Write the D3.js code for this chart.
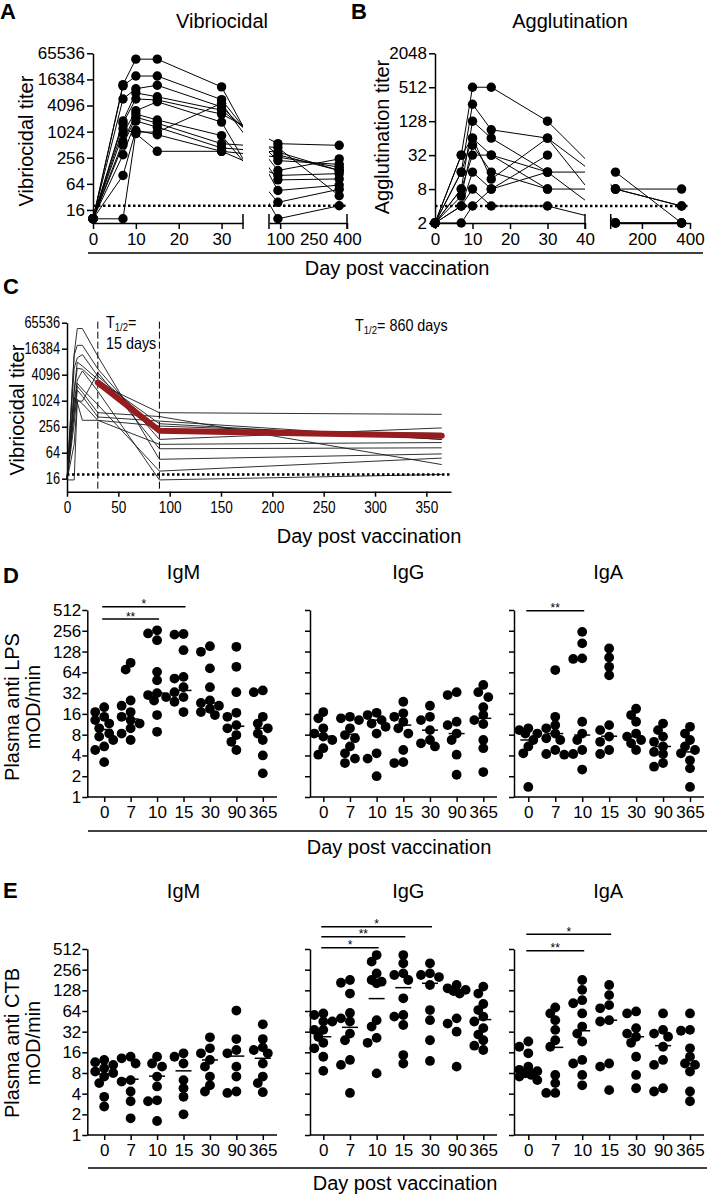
<!DOCTYPE html>
<html><head><meta charset="utf-8">
<script src="https://cdn.jsdelivr.net/npm/d3@7"></script>
<style>body{margin:0;background:#fff}</style>
</head><body>
<svg id="chart" width="712" height="1198"></svg>
<script>
// ---------------- DATA ----------------
const vibDays = [0, 7, 10, 15, 30, 90, 365];
const vibTicks = [16, 64, 256, 1024, 4096, 16384, 65536];
const vibThreshold = 20;
// one row per volunteer: titer at day 0,7,10,15,30,90,365
const vibSubjects = [
  [10, 12400, 48000, 48000, 11000, 45, 60],
  [10, 11600, 19600, 19600, 5600, 130, 240],
  [10, 5800, 10000, 12000, 3800, 220, 180],
  [10, 1800, 8000, 6500, 3200, 300, 130],
  [10, 1600, 5800, 5500, 2600, 540, 495],
  [10, 920, 3100, 5000, 1700, 10, 20],
  [10, 600, 2600, 1900, 830, 24, 48],
  [10, 500, 2200, 1600, 540, 440, 34],
  [10, 300, 1800, 1300, 430, 345, 130],
  [10, 100, 1100, 870, 360, 265, 155],
  [10, 1200, 920, 360, 360, 100, 110],
  [10, 10, 1000, 1000, 4600, 79, 83]
];
const aggDays = [0, 7, 10, 15, 30, 90, 365];
const aggTicks = [2, 8, 32, 128, 512, 2048];
const aggThreshold = 4;
const aggSubjects = [
  [2, 32, 512, 512, 128, 8, 4],
  [2, 16, 256, 90, 64, 8, 8],
  [2, 8, 128, 64, 16, 16, 2],
  [2, 16, 64, 12, 64, 2, 2],
  [2, 6, 48, 16, 8, 8, 4],
  [2, 8, 32, 32, 16, 2, 2],
  [2, 4, 8, 4, 4, 2, 2],
  [2, 4, 16, 8, 32, null, null],
  [2, 2, 4, 8, 16, null, null],
  [2, 32, 64, 32, 8, null, null]
];
const halfLifeDays = [30, 90, 365];
const halfLifeTiter = [2680, 207, 158];
const cXTicks = [0, 50, 100, 150, 200, 250, 300, 350];

const elisaDays = ["0", "7", "10", "15", "30", "90", "365"];
const elisaTicks = [1, 2, 4, 8, 16, 32, 64, 128, 256, 512];

const lpsIgM = [
  [20, 17, 14.5, 13, 11.6, 9.9, 8.3, 7.5, 6.7, 5.4, 4.8, 3.2],
  [88, 70, 25, 21, 17, 14.5, 13, 11.6, 9.9, 8.3, 6.7],
  [260, 234, 187, 65, 49, 32, 30, 28, 25, 15.4, 8.8],
  [230, 225, 134, 55, 52, 39, 33, 28, 24, 17],
  [153, 127, 73, 39, 25, 23, 21, 19, 17, 15.4],
  [150, 77, 33, 16.6, 14.5, 11, 9.9, 7.9, 6.3, 4.8],
  [35, 33, 14.5, 11.6, 9.9, 8.3, 6.7, 4, 2.2]
];
const lpsIgMMean = [9.5, 13.5, 32, 35, 23, 10.6, 9.9];
const lpsIgG = [
  [17, 13.8, 9.9, 8.3, 7.5, 6.7, 5.1, 4.1],
  [14.5, 13.8, 13, 9.9, 7.9, 7.1, 5.4, 4.3, 3.6, 3.1],
  [16.6, 15.4, 13, 11.6, 10.4, 8.3, 4.3, 3.6, 2],
  [24, 16.3, 14.5, 12.3, 9.9, 8.3, 4.8, 3.2, 3.1],
  [21, 14.5, 13, 9.3, 6.7, 6, 5.4],
  [33, 30, 12.3, 11, 8.3, 6.7, 4.1, 2.1],
  [42, 33, 28, 20, 15.4, 13, 11.4, 6.7, 5.1, 2.3]
];
const lpsIgGMean = [7.6, 8.1, 13, 11, 9.3, 8.3, 13.8];
const lpsIgA = [
  [9.9, 9.3, 8.3, 8.3, 6.7, 5.4, 4.3, 1.4],
  [69, 14.5, 11, 9.9, 8.3, 7.1, 6.7, 4.8, 4.2, 4.1],
  [247, 168, 102, 100, 12.3, 8.3, 6.7, 4.8, 4.2, 2.5],
  [142, 105, 77, 58, 11, 9.3, 7.5, 6.3, 4.8, 4.2],
  [19, 15.4, 12.3, 8.3, 7.5, 6.7, 6, 4.8],
  [11.6, 9.3, 7.5, 6.3, 5.4, 4.5, 4.2, 3.1, 2.75],
  [10.4, 8.3, 6.7, 5.4, 4.8, 4.3, 3.4, 2.6, 1.4]
];
const lpsIgAMean = [6.7, 8.3, 7.9, 7.6, 7.5, 5.4, 4.5];

const ctbIgM = [
  [12.4, 11.5, 10.5, 9.4, 8.4, 8, 7.1, 5.7, 3.6, 2.6],
  [13.8, 13.1, 11, 6.3, 6, 4.3, 3.1, 1.75],
  [13.8, 11, 9.9, 7.1, 5.1, 3.2, 3.1, 1.6],
  [15.5, 13.8, 11, 6.3, 4.8, 3.6, 2],
  [26.5, 18.3, 15.5, 12.4, 9.9, 7.1, 5.3, 4.3],
  [65, 25, 17.3, 15.5, 9.9, 7.1, 4.3, 4.1],
  [41, 25, 18.9, 17.3, 15.5, 11, 7.1, 5.7, 4.2]
];
const ctbIgMMean = [7.7, 6.5, 7.2, 8.6, 12.4, 14.1, 13.1];
const ctbIgG = [
  [59, 56, 45, 45, 34, 34, 27, 22, 18.3, 13.8, 8.6],
  [181, 165, 115, 60, 50, 45, 30, 24, 12.4, 10.5, 4.1],
  [418, 335, 226, 181, 171, 162, 47, 38, 26, 22, 7.9],
  [418, 317, 226, 214, 181, 98, 56, 53, 40, 14.6, 11],
  [317, 226, 214, 200, 153, 66, 47, 24, 12],
  [153, 137, 130, 125, 115, 50, 42, 32, 9.9],
  [145, 115, 81, 66, 53, 45, 36, 29, 24, 20, 17.3]
];
const ctbIgGMean = [27, 37, 97, 140, 162, 118, 48];
const ctbIgA = [
  [23, 19.3, 15.5, 9.9, 8.9, 8.5, 7.9, 7.5, 7.1, 6.3],
  [72, 59, 47, 34, 24, 19.3, 7.5, 5.7, 4.1, 4.1],
  [181, 130, 92, 83, 59, 38, 30, 23, 12.4, 11, 7.5, 5.3],
  [153, 109, 78, 70, 47, 45, 11, 9.9, 4.5],
  [63, 59, 36, 30, 27, 22, 13.8, 7.5, 4.8],
  [59, 34, 30, 27, 19.3, 12.4, 10.5, 4.8, 4.3],
  [59, 34, 33, 18.3, 13.8, 11, 10.5, 8.4, 4.3, 3.1]
];
const ctbIgAMean = [8.9, 18.9, 33, 47, 27, 20, 11];

// significance: [from day, to day, label]
const sigLpsIgM = [["0", "15", "*"], ["0", "10", "**"]];
const sigLpsIgA = [["0", "10", "**"]];
const sigCtbIgG = [["0", "30", "*"], ["0", "15", "**"], ["0", "10", "*"]];
const sigCtbIgA = [["0", "15", "*"], ["0", "10", "**"]];

// ---------------- HELPERS ----------------
const F = "'Liberation Sans', Arial, Helvetica, sans-serif";
const svg = d3.select("#chart");
const TICK = 17, TITLE = 20;

function addText(x, y, str, size, anchor = "middle", weight = "normal") {
  return svg.append("text").attr("x", x).attr("y", y)
    .attr("font-family", F).attr("font-size", size)
    .attr("text-anchor", anchor).attr("font-weight", weight)
    .attr("fill", "#000").text(str);
}
function addVText(cx, cy, str, size) {
  return svg.append("text").attr("transform", `translate(${cx},${cy}) rotate(-90)`)
    .attr("dy", "0.35em").attr("font-family", F).attr("font-size", size)
    .attr("text-anchor", "middle").attr("fill", "#000").text(str);
}
function styleAxis(g, fs) {
  g.attr("font-family", F).attr("font-size", fs);
  g.select(".domain").attr("stroke", "#000").attr("stroke-width", 1.5);
  g.selectAll(".tick line").attr("stroke", "#000").attr("stroke-width", 1.5);
  g.selectAll(".tick text").attr("fill", "#000");
}
function squeeze(sel, f) {
  sel.each(function () {
    const w = this.getComputedTextLength();
    d3.select(this).attr("textLength", w * f).attr("lengthAdjust", "spacingAndGlyphs");
  });
}
function line(x1, y1, x2, y2, w = 1.5, dash = null) {
  const l = svg.append("line").attr("x1", x1).attr("y1", y1).attr("x2", x2).attr("y2", y2)
    .attr("stroke", "#000").attr("stroke-width", w);
  if (dash) l.attr("stroke-dasharray", dash);
  return l;
}
const fmt = d => String(d);

// ---------------- PANEL A ----------------
addText(0, 19, "A", 22, "start", "bold");
addText(222, 28, "Vibriocidal", TITLE);
const yA = d3.scaleLog().base(2).domain([8, 65536]).range([223, 53.3]);
const xA1 = d3.scaleLinear().domain([0, 35]).range([93, 243]);
const xA2 = d3.scaleLinear().domain([50, 400]).range([269, 347]);
const xA = d => d <= 35 ? xA1(d) : xA2(d);

svg.append("g").attr("transform", "translate(93,0)")
  .call(d3.axisLeft(yA).tickValues(vibTicks).tickFormat(fmt).tickSize(6).tickPadding(2).tickSizeOuter(0))
  .call(g => styleAxis(g, TICK));
svg.append("g").attr("transform", "translate(0,223)")
  .call(d3.axisBottom(xA1).tickValues([0, 10, 20, 30]).tickFormat(fmt).tickSize(6).tickPadding(4).tickSizeOuter(0))
  .call(g => styleAxis(g, TICK));
svg.append("g").attr("transform", "translate(0,223)")
  .call(d3.axisBottom(xA2).tickValues([100, 250, 400]).tickFormat(fmt).tickSize(6).tickPadding(4).tickSizeOuter(0))
  .call(g => styleAxis(g, TICK))
  .call(g => g.selectAll(".tick line").filter(d => d === 250).remove());
line(243, 214, 243, 229); line(269, 214, 269, 229); line(347, 214, 347, 229);
addVText(26, 141, "Vibriocidal titer", TITLE);

const defs = svg.append("defs");
const cA = defs.append("clipPath").attr("id", "clipA");
cA.append("rect").attr("x", 93).attr("y", 40).attr("width", 150).attr("height", 190);
cA.append("rect").attr("x", 269).attr("y", 40).attr("width", 78).attr("height", 190);
const lineA = d3.line().defined(d => d[1] != null).x(d => xA(d[0])).y(d => yA(d[1]));
const gA = svg.append("g").attr("clip-path", "url(#clipA)");
vibSubjects.forEach(s => {
  gA.append("path").attr("d", lineA(vibDays.map((d, i) => [d, s[i]])))
    .attr("fill", "none").attr("stroke", "#000").attr("stroke-width", 1);
});
line(93, yA(vibThreshold), 347, yA(vibThreshold), 2.5, "2.5,2.5");
vibSubjects.forEach(s => {
  vibDays.forEach((d, i) => {
    if (s[i] == null) return;
    svg.append("circle").attr("cx", xA(d)).attr("cy", yA(s[i])).attr("r", 4.7).attr("fill", "#000");
  });
});

// ---------------- PANEL B ----------------
addText(351, 19, "B", 22, "start", "bold");
addText(570, 28, "Agglutination", TITLE);
const yB = d3.scaleLog().base(2).domain([2, 2048]).range([223, 53.3]);
const xB1 = d3.scaleLinear().domain([0, 40]).range([435, 585]);
const xB2 = d3.scaleLinear().domain([70, 400]).range([610.7, 690]);
const xB = d => d <= 40 ? xB1(d) : xB2(d);
svg.append("g").attr("transform", "translate(435,0)")
  .call(d3.axisLeft(yB).tickValues(aggTicks).tickFormat(fmt).tickSize(6).tickPadding(2).tickSizeOuter(0))
  .call(g => styleAxis(g, TICK));
svg.append("g").attr("transform", "translate(0,223)")
  .call(d3.axisBottom(xB1).tickValues([0, 10, 20, 30, 40]).tickFormat(fmt).tickSize(6).tickPadding(4).tickSizeOuter(0))
  .call(g => styleAxis(g, TICK));
svg.append("g").attr("transform", "translate(0,223)")
  .call(d3.axisBottom(xB2).tickValues([200, 400]).tickFormat(fmt).tickSize(6).tickPadding(4).tickSizeOuter(0))
  .call(g => styleAxis(g, TICK));
line(585, 214, 585, 229); line(610.7, 214, 610.7, 229);
addVText(382, 137, "Agglutination titer", TITLE);
const cB = defs.append("clipPath").attr("id", "clipB");
cB.append("rect").attr("x", 435).attr("y", 40).attr("width", 150).attr("height", 190);
cB.append("rect").attr("x", 610.7).attr("y", 40).attr("width", 79.3).attr("height", 190);
const lineB = d3.line().defined(d => d[1] != null).x(d => xB(d[0])).y(d => yB(d[1]));
const gB = svg.append("g").attr("clip-path", "url(#clipB)");
aggSubjects.forEach(s => {
  gB.append("path").attr("d", lineB(aggDays.map((d, i) => [d, s[i]])))
    .attr("fill", "none").attr("stroke", "#000").attr("stroke-width", 1);
});
line(435, yB(aggThreshold), 690, yB(aggThreshold), 2.5, "2.5,2.5");
aggSubjects.forEach(s => {
  aggDays.forEach((d, i) => {
    if (s[i] == null) return;
    svg.append("circle").attr("cx", xB(d)).attr("cy", yB(s[i])).attr("r", 4.7).attr("fill", "#000");
  });
});

line(88, 253, 703, 253, 1.5);
addText(397, 275, "Day post vaccination", TITLE);

// ---------------- PANEL C ----------------
addText(3, 294, "C", 22, "start", "bold");
const yC = d3.scaleLog().base(2).domain([8, 65536]).range([491.7, 322.7]);
const xC = d3.scaleLinear().domain([0, 374]).range([67, 451]);
svg.append("g").attr("transform", "translate(67,0)")
  .call(d3.axisLeft(yC).tickValues(vibTicks).tickFormat(fmt).tickSize(5).tickPadding(2).tickSizeOuter(0))
  .call(g => styleAxis(g, 16))
  .call(g => squeeze(g.selectAll(".tick text"), 0.8));
svg.append("g").attr("transform", "translate(0,491.7)")
  .call(d3.axisBottom(xC).tickValues(cXTicks).tickFormat(fmt).tickSize(5).tickPadding(5).tickSizeOuter(0))
  .call(g => styleAxis(g, 16))
  .call(g => squeeze(g.selectAll(".tick text"), 0.85));
addVText(17, 410, "Vibriocidal titer", TITLE);
addText(369, 543, "Day post vaccination", TITLE);
const lineC = d3.line().defined(d => d[1] != null).x(d => xC(d[0])).y(d => yC(Math.max(d[1], 15)));
vibSubjects.forEach(s => {
  svg.append("path").attr("d", lineC(vibDays.map((d, i) => [d, s[i]])))
    .attr("fill", "none").attr("stroke", "#1a1a1a").attr("stroke-width", 0.9);
});
line(67, yC(vibThreshold), 451, yC(vibThreshold), 2.5, "2.5,2.5");
[30, 90].forEach(d => line(xC(d), 321.7, xC(d), 491.7, 1, "7,3"));
svg.append("path").attr("d", d3.line().x(d => xC(d)).y((d, i) => yC(halfLifeTiter[i]))(halfLifeDays))
  .attr("fill", "none").attr("stroke", "#981c1f").attr("stroke-width", 6).attr("stroke-linecap", "round").attr("stroke-linejoin", "round");
function halfLife(x, y, rest) {
  const t = svg.append("text").attr("transform", `translate(${x},${y}) scale(0.87,1)`)
    .attr("font-family", F).attr("font-size", 16.5).attr("fill", "#000");
  t.append("tspan").text("T");
  t.append("tspan").attr("font-size", 11).attr("dy", 3).text("1/2");
  t.append("tspan").attr("dy", -3).text(rest);
}
halfLife(106, 328, "=");
svg.append("text").attr("transform", "translate(106,349) scale(0.87,1)")
  .attr("font-family", F).attr("font-size", 16.5).attr("fill", "#000").text("15 days");
halfLife(355, 331, "= 860 days");

// ---------------- PANELS D & E ----------------
const yD = d3.scaleLog().base(2).domain([1, 512]).range([797, 610]);
const yE = d3.scaleLog().base(2).domain([1, 512]).range([1135, 949]);

function swarm(vals, y) {
  const pts = vals.map(v => ({ v, y: y(v) })).sort((a, b) => a.y - b.y);
  const cands = [0, -5, 5, -9, 9, -3, 3, -7, 7];
  const placed = [];
  pts.forEach(p => {
    let best = 0, bestD = -1;
    for (const o of cands) {
      let md = Infinity;
      placed.forEach(q => { const dd = Math.hypot(o - q.dx, p.y - q.y); if (dd < md) md = dd; });
      if (md >= 7.5) { best = o; bestD = md; break; }
      if (md > bestD) { bestD = md; best = o; }
    }
    p.dx = best; placed.push(p);
  });
  return placed;
}

function elisa(cfg) {
  const x = d3.scalePoint().domain(elisaDays).range([cfg.first, cfg.last]);
  const y = cfg.y;
  const y0 = y.range()[0];
  svg.append("g").attr("transform", `translate(${cfg.axisX},0)`)
    .call(d3.axisLeft(y).tickValues(elisaTicks).tickFormat(cfg.labels ? fmt : "").tickSize(5).tickPadding(1).tickSizeOuter(0))
    .call(g => styleAxis(g, TICK));
  svg.append("g").attr("transform", `translate(0,${y0})`)
    .call(d3.axisBottom(x).tickSize(5).tickPadding(4).tickSizeOuter(0))
    .call(g => styleAxis(g, TICK))
    .call(g => g.select(".domain").remove());
  line(cfg.axisX, y0, cfg.axisEnd, y0, 1.5);
  addText(x("15") + cfg.titleShift, cfg.titleY, cfg.title, TITLE);
  cfg.data.forEach((vals, i) => {
    const cx = x(elisaDays[i]);
    swarm(vals, y).forEach(p => {
      svg.append("circle").attr("cx", cx + p.dx).attr("cy", p.y).attr("r", 4.9).attr("fill", "#000");
    });
    line(cx - 8, y(cfg.means[i]), cx + 8, y(cfg.means[i]), 1.5);
  });
  (cfg.sig || []).forEach((s, k) => {
    const by = cfg.sigY[k];
    const xa = x(s[0]) - 2, xb = x(s[1]) + 2;
    line(xa, by, xb, by, 1.5);
    addText((xa + xb) / 2, by + 1.5, s[2], 12);
  });
}

// D
addText(3, 583, "D", 22, "start", "bold");
elisa({ y: yD, axisX: 87.3, axisEnd: 277, first: 104.2, last: 262.8, labels: true, data: lpsIgM, means: lpsIgMMean, title: "IgM", titleY: 579, titleShift: 0, sig: sigLpsIgM, sigY: [606.7, 619] });
elisa({ y: yD, axisX: 310, axisEnd: 497, first: 323.3, last: 483.3, labels: false, data: lpsIgG, means: lpsIgGMean, title: "IgG", titleY: 579, titleShift: 5 });
elisa({ y: yD, axisX: 514, axisEnd: 704, first: 528.3, last: 690, labels: false, data: lpsIgA, means: lpsIgAMean, title: "IgA", titleY: 579, titleShift: -1, sig: sigLpsIgA, sigY: [610.7] });
addVText(12, 707, "Plasma anti LPS", TITLE);
addVText(33, 707, "mOD/min", TITLE);
line(88, 831, 707, 831, 1.5);
addText(399, 854, "Day post vaccination", TITLE);

// E
addText(3, 898, "E", 22, "start", "bold");
elisa({ y: yE, axisX: 87.3, axisEnd: 277, first: 104.2, last: 262.8, labels: true, data: ctbIgM, means: ctbIgMMean, title: "IgM", titleY: 898, titleShift: 0 });
elisa({ y: yE, axisX: 310, axisEnd: 497, first: 323.3, last: 483.3, labels: false, data: ctbIgG, means: ctbIgGMean, title: "IgG", titleY: 898, titleShift: 5, sig: sigCtbIgG, sigY: [926.7, 936.7, 947.7] });
elisa({ y: yE, axisX: 514, axisEnd: 704, first: 528.3, last: 690, labels: false, data: ctbIgA, means: ctbIgAMean, title: "IgA", titleY: 898, titleShift: -1, sig: sigCtbIgA, sigY: [934.3, 950.7] });
addVText(12, 1043, "Plasma anti CTB", TITLE);
addVText(33, 1043, "mOD/min", TITLE);
line(88, 1168, 707, 1168, 1.5);
addText(405, 1190, "Day post vaccination", TITLE);
</script>
</body></html>
